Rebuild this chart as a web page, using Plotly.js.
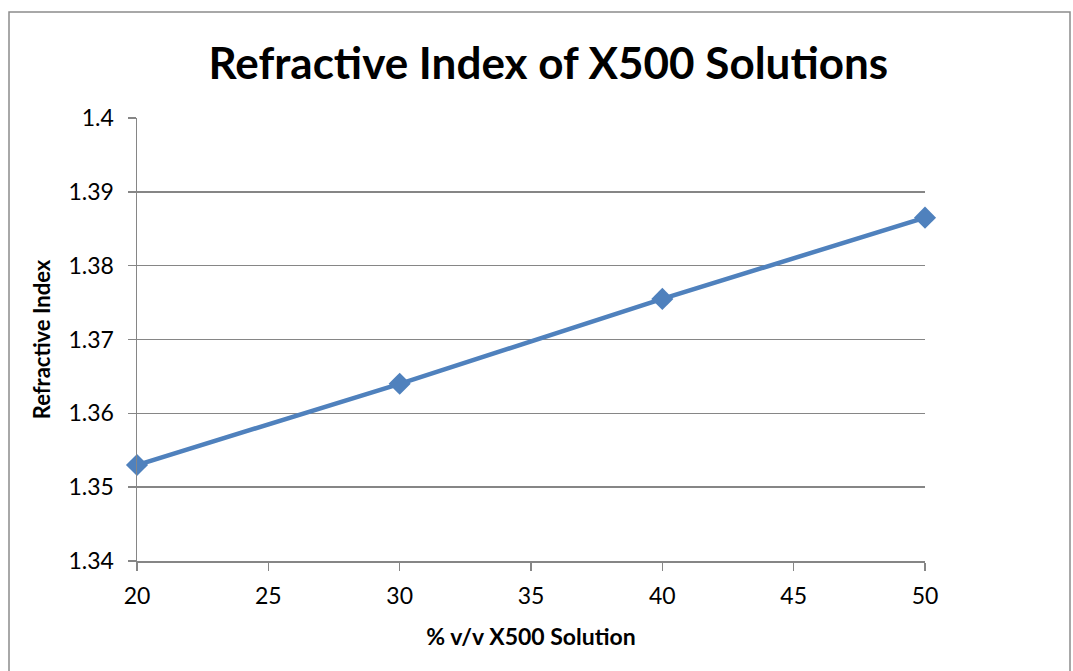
<!DOCTYPE html>
<html>
<head>
<meta charset="utf-8">
<script src="https://cdn.plot.ly/plotly-3.0.1.min.js"></script>
<style>html,body{margin:0;padding:0;background:#fff;}#chart{width:1073px;height:671px;}</style>
</head>
<body>
<div id="chart"></div>
<script>
const concentration = [20, 30, 40, 50];
const refractiveIndex = [1.353, 1.364, 1.3755, 1.3865];
const yTicks = [1.34, 1.35, 1.36, 1.37, 1.38, 1.39, 1.4];
const yTickLabels = ['1.34', '1.35', '1.36', '1.37', '1.38', '1.39', '1.4'];
const xTicks = [20, 25, 30, 35, 40, 45, 50];

const font = 'Lato, "Open Sans", "Liberation Sans", sans-serif';

const trace = {
  x: concentration,
  y: refractiveIndex,
  mode: 'lines+markers',
  type: 'scatter',
  line: {color: '#4F81BD', width: 4.5},
  marker: {symbol: 'diamond', size: 17, color: '#4F81BD'},
  cliponaxis: false,
  showlegend: false
};

const layout = {
  width: 1073, height: 671,
  margin: {l: 137, r: 148, t: 118, b: 110},
  paper_bgcolor: '#fff', plot_bgcolor: '#fff',
  font: {family: font, color: '#000', size: 23},
  title: {text: '<b>Refractive Index of X500 Solutions</b>', font: {size: 44, family: font, color: '#000'},
          xref: 'container', x: 0.511, xanchor: 'center', yref: 'container', y: 0.905, yanchor: 'middle'},
  xaxis: {range: [20, 50], tickvals: xTicks, ticktext: xTicks.map(String), showgrid: false, zeroline: false,
          showline: true, linecolor: '#868686', linewidth: 1.5, ticks: 'outside', ticklen: 8, tickcolor: '#868686', tickwidth: 1.5,
          ticklabelstandoff: 6,
          tickfont: {size: 23}, title: {text: '<b>% v/v X500 Solution</b>', font: {size: 23}, standoff: 21}},
  yaxis: {range: [1.34, 1.4], tickvals: yTicks, ticktext: yTickLabels, showgrid: true, gridcolor: '#868686', gridwidth: 1.5,
          zeroline: false, showline: true, linecolor: '#868686', linewidth: 1.5, ticks: 'outside', ticklen: 8, tickcolor: '#868686', tickwidth: 1.5,
          ticklabelstandoff: 9,
          tickfont: {size: 23}, title: {text: '<b>Refractive Index</b>', font: {size: 22}, standoff: 11}},
  shapes: [{type: 'rect', xref: 'paper', yref: 'paper', x0: (9 - 137) / 788, x1: (1070 - 137) / 788,
            y0: (561 - 700) / 443, y1: (561 - 12) / 443, line: {color: '#8c8c8c', width: 1.5}, fillcolor: 'rgba(0,0,0,0)', layer: 'below'}]
};

Plotly.newPlot('chart', [trace], layout, {displayModeBar: false, staticPlot: true});
</script>
</body>
</html>
